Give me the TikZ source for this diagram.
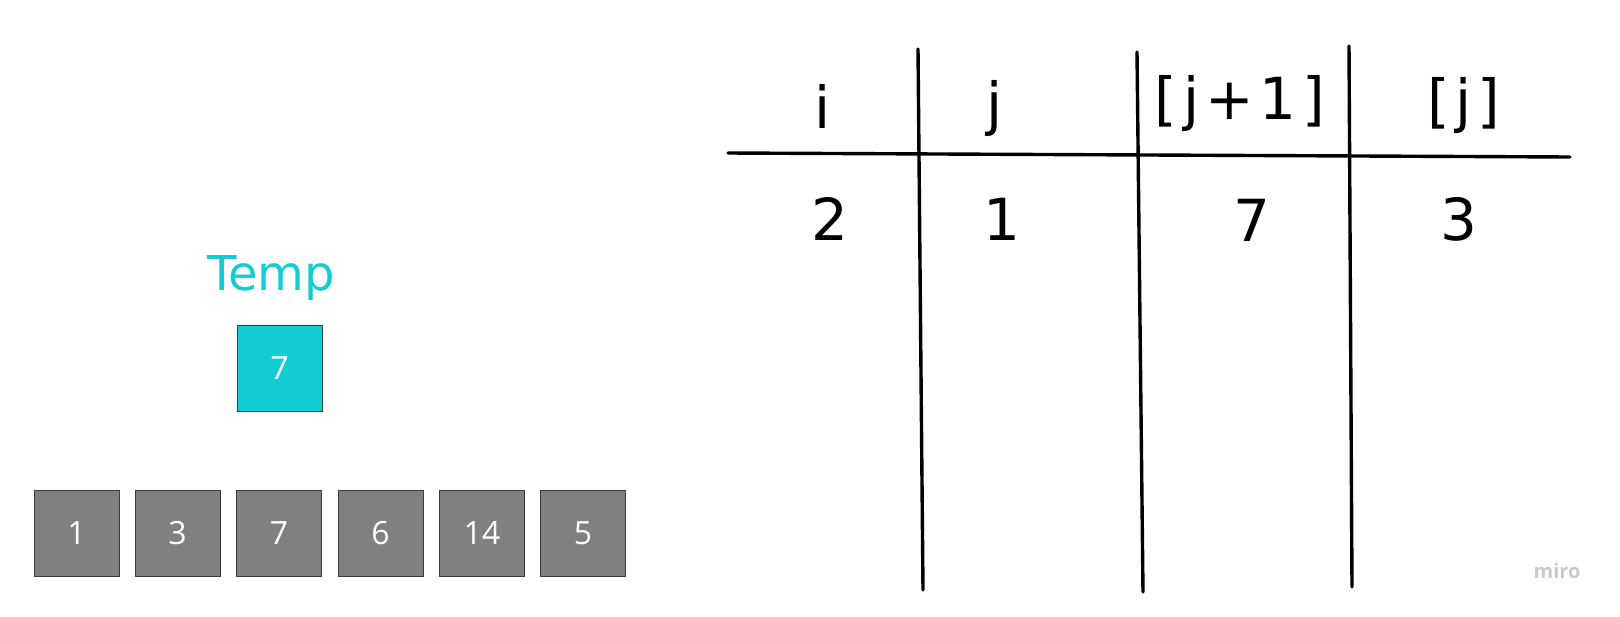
\documentclass[tikz,border=0pt]{standalone}
\usepackage{fontspec}
\setmainfont{Open Sans}
\newfontfamily\handfont{DejaVu Sans}
\newfontfamily\handwide[LetterSpace=10]{DejaVu Sans}
\definecolor{cellgray}{HTML}{808080}
\definecolor{tempcyan}{HTML}{12CDD4}
\definecolor{borderdark}{HTML}{3A3A3A}
\definecolor{mirogray}{HTML}{C5C9D3}
\begin{document}
\begin{tikzpicture}[x=1pt,y=-1pt,
  cell/.style={draw=borderdark,line width=0.8pt,fill=cellgray,minimum width=85pt,minimum height=86pt,inner sep=0pt,text=white,font=\fontsize{32}{38}\selectfont},
  tempcell/.style={cell,fill=tempcyan},
  hand/.style={font=\handfont\fontsize{58}{64}\selectfont,text=black,inner sep=0pt},
  rule/.style={line width=3.4pt,black,line cap=round}]
\useasboundingbox (0,0) rectangle (1620,616);
% array cells
\node[cell] (c1) at (76.5,533) {1};
\node[cell] (c2) at (177.5,533) {3};
\node[cell] (c3) at (279,533) {7};
\node[cell] (c4) at (380.5,533) {6};
\node[cell] (c5) at (482,533) {14};
\node[cell] (c6) at (583,533) {5};
% temp
\node[tempcell] (tmp) at (279.5,368) {7};
\node[font=\handfont\fontsize{48}{54}\selectfont,text=tempcyan,inner sep=0pt] (templbl) at (271,278) {Temp};
% table rules
\coordinate (h1) at (728,153);
\coordinate (h2) at (1570,157);
\coordinate (v1t) at (918,49);
\coordinate (v1b) at (923,590);
\coordinate (v2t) at (1137,52);
\coordinate (v2b) at (1143,592);
\coordinate (v3t) at (1349,46);
\coordinate (v3b) at (1352,587);
\draw[rule] (h1) -- (h2);
\draw[rule] (v1t) -- (v1b);
\draw[rule] (v2t) -- (v2b);
\draw[rule] (v3t) -- (v3b);
% headers
\node[hand] (hi) at (823,106) {i};
\node[hand] (hj) at (995,108) {j};
\node[hand,font=\handwide\fontsize{58}{64}\selectfont] (hjp) at (1240,103) {[j+1]};
\node[hand,font=\handwide\fontsize{58}{64}\selectfont] (hjj) at (1464,105) {[j]};
% values
\node[hand] (vi) at (830,219) {2};
\node[hand] (vj) at (1002,219) {1};
\node[hand] (vjp) at (1252,220) {7};
\node[hand] (vjj) at (1459,219) {3};
% logo
\node[font=\bfseries\fontsize{20}{24}\selectfont,text=mirogray,inner sep=0pt] (miro) at (1557,571) {miro};
\end{tikzpicture}
\end{document}
